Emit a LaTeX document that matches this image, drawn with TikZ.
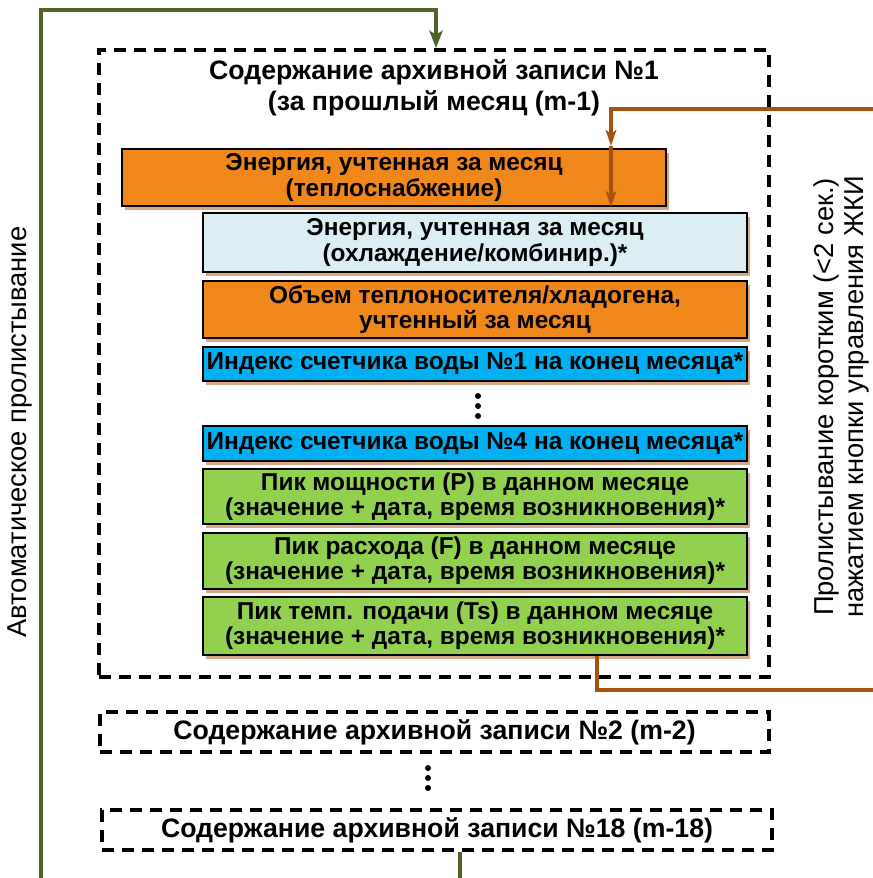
\documentclass[tikz,border=0pt]{standalone}
\usepackage{fontspec}
\setmainfont{Liberation Sans}
\usetikzlibrary{arrows.meta,shadows,fit,calc}
\definecolor{org}{HTML}{F0871A}
\definecolor{lblue}{HTML}{DBEEF4}
\definecolor{sblue}{HTML}{00B0F0}
\definecolor{lgreen}{HTML}{92D050}
\definecolor{shad}{HTML}{D4A98A}
\definecolor{olive}{HTML}{4F6228}
\definecolor{brn}{HTML}{A5520F}
\tikzset{
  box/.style={draw=black, line width=1.6pt, inner sep=0pt,
    drop shadow={shadow xshift=2.4pt, shadow yshift=-2.8pt, fill=shad, opacity=1}},
  btext/.style={font=\bfseries\fontsize{18.3}{19}\selectfont, align=center},
  dbox/.style={draw=black, line width=3pt, dash pattern=on 9pt off 6pt, inner sep=0pt},
  dtitle/.style={font=\bfseries\fontsize{20}{23.5}\selectfont, align=center},
  gline/.style={draw=olive, line width=2.3pt},
  bline/.style={draw=brn, line width=2.3pt},
  side/.style={font=\fontsize{20.5}{22.5}\selectfont, align=center, rotate=90},
  vdot/.style={circle, fill=black, inner sep=0pt, minimum size=4.5pt}
}
\begin{document}
\begin{tikzpicture}[x=0.75pt,y=-0.75pt]
\useasboundingbox (0,0) rectangle (872,878);
% dashed record boxes
\node[dbox, fit={(99,50)(769,677)}] (rec1) {};
\node[dbox, fit={(100,712)(769,752)}] (rec2) {};
\node[dbox, fit={(102,810)(772,850)}] (rec18) {};
\node[dtitle] (t1) at (434,88) {Содержание архивной записи №1\\(за прошлый месяц (m-1)};
\node[dtitle] (t2) at (rec2.center) {Содержание архивной записи №2 (m-2)};
\node[dtitle] (t18) at (rec18.center) {Содержание архивной записи №18 (m-18)};
% inner boxes
\node[box, fill=org, fit={(122,149)(666,206)}] (b1) {};
\node[btext] (b1t) at (b1.center) {Энергия, учтенная за месяц\\(теплоснабжение)};
\node[box, fill=lblue, fit={(203,213)(747,272)}] (b2) {};
\node[btext] (b2t) at (b2.center) {Энергия, учтенная за месяц\\(охлаждение/комбинир.)*};
\node[box, fill=org, fit={(203,281)(747,338)}] (b3) {};
\node[btext] (b3t) at (b3.center) {Объем теплоносителя/хладогена,\\учтенный за месяц};
\node[box, fill=sblue, fit={(203,347)(747,381)}] (b4) {};
\node[btext] (b4t) at (b4.center) {Индекс счетчика воды №1 на конец месяца*};
\node[box, fill=sblue, fit={(203,426)(747,461)}] (b5) {};
\node[btext] (b5t) at (b5.center) {Индекс счетчика воды №4 на конец месяца*};
\node[box, fill=lgreen, fit={(203,469)(747,524)}] (b6) {};
\node[btext] (b6t) at (b6.center) {Пик мощности (P) в данном месяце\\(значение + дата, время возникновения)*};
\node[box, fill=lgreen, fit={(203,533)(747,589)}] (b7) {};
\node[btext] (b7t) at (b7.center) {Пик расхода (F) в данном месяце\\(значение + дата, время возникновения)*};
\node[box, fill=lgreen, fit={(203,597)(747,655)}] (b8) {};
\node[btext] (b8t) at (b8.center) {Пик темп. подачи (Ts) в данном месяце\\(значение + дата, время возникновения)*};
% dots
\node[vdot] (d1) at (478,396) {};
\node[vdot] (d2) at (478,406) {};
\node[vdot] (d3) at (478,416) {};
\node[vdot] (e1) at (428,768) {};
\node[vdot] (e2) at (428,778) {};
\node[vdot] (e3) at (428,788) {};
% side texts
\node[side] (ls) at (20,432) {Автоматическое пролистывание};
\node[side] (rs) at (841,397) {Пролистывание коротким (<2 сек.)\\нажатием кнопки управления ЖКИ};
% green loop
\coordinate (gA) at (41,880);
\coordinate (gB) at (41,10);
\coordinate (gC) at (436,10);
\coordinate (gD) at (460,880);
\draw[gline, -{Stealth[length=13pt,width=10pt,inset=3pt]}] (gA) -- (gB) -- (gC) -- (gC |- rec1.north);
\draw[gline] (rec18.south -| 460,0) -- (gD);
% brown lines
\coordinate (bA) at (874,109);
\coordinate (bB) at (611,109);
\coordinate (bM) at (611,146);
\draw[bline, -{Stealth[length=12pt,width=8pt,inset=3pt]}] (bA) -- (bB) -- (bM);
\draw[bline, -{Stealth[length=12pt,width=8pt,inset=3pt]}] (bM) -- (bM |- b1.south);
\coordinate (cB) at (874,690);
\draw[bline] (b8.south -| 597,0) -- (597,690) -- (cB);
\end{tikzpicture}
\end{document}
